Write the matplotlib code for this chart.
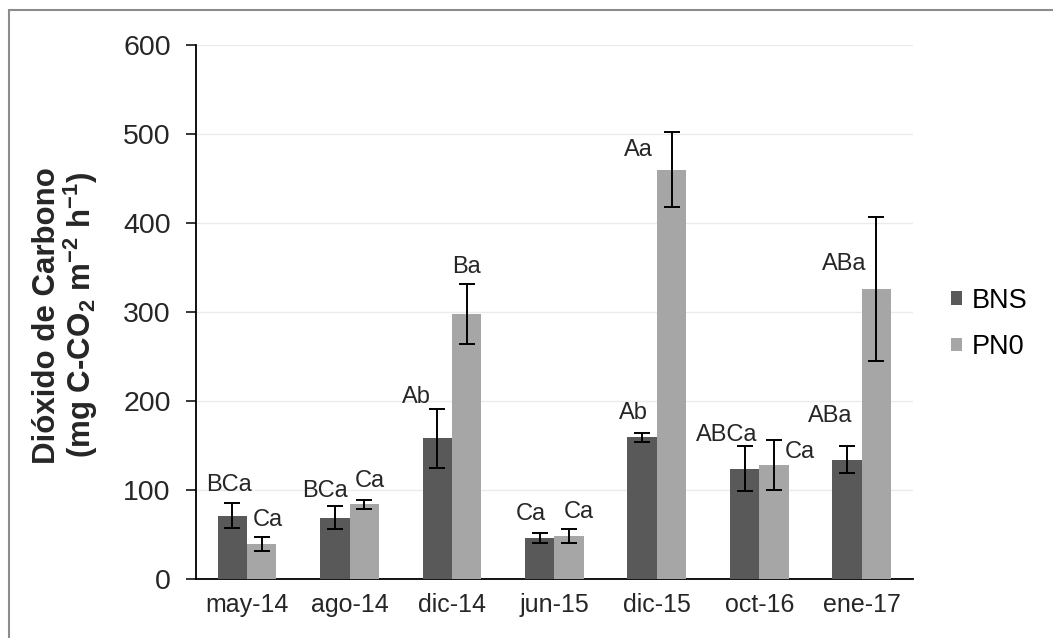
import matplotlib
matplotlib.use("Agg")
import matplotlib.pyplot as plt
import numpy as np
from matplotlib.patches import Rectangle

plt.rcParams['font.family'] = ['Liberation Sans', 'DejaVu Sans']
plt.rcParams['mathtext.fontset'] = 'custom'
plt.rcParams['mathtext.rm'] = 'Liberation Sans'
plt.rcParams['mathtext.bf'] = 'Liberation Sans:bold'

fechas = ["may-14", "ago-14", "dic-14", "jun-15", "dic-15", "oct-16", "ene-17"]

bns = [71, 69, 158, 46, 159, 124, 134]
bns_err = [14, 13, 33, 6, 5, 25, 15]
bns_letras = ["BCa", "BCa", "Ab", "Ca", "Ab", "ABCa", "ABa"]

pn0 = [39, 84, 298, 48, 460, 128, 326]
pn0_err = [8, 5, 34, 8, 42, 28, 81]
pn0_letras = ["Ca", "Ca", "Ba", "Ca", "Aa", "Ca", "ABa"]

# where each letter sits, relative to the top of its error bar (x in categories, y in data)
bns_dx = [-0.035, -0.097, -0.205, -0.086, -0.084, -0.171, -0.166]
bns_dy = [21, 17, 14, 21, 22, 13, 34]
pn0_dx = [0.058, 0.055, 0.0, 0.095, -0.32, 0.252, -0.317]
pn0_dy = [19, 21, 18, 19, -20, -13, -53]

col_bns = '#595959'
col_pn0 = '#a6a6a6'
txt = '#262626'

fig = plt.figure(figsize=(10.53, 6.38), dpi=100)
ax = fig.add_axes([0.186, 0.0925, 0.681, 0.837])

x = np.arange(len(fechas))
w = 0.287
ek = dict(ecolor='black', elinewidth=1.4, capsize=6, capthick=1.4)

ax.bar(x - w/2, bns, w, color=col_bns, label='BNS', yerr=bns_err, error_kw=ek, zorder=3)
ax.bar(x + w/2, pn0, w, color=col_pn0, label='PN0', yerr=pn0_err, error_kw=ek, zorder=3)

for i in range(len(fechas)):
	ax.text(x[i] - w/2 + bns_dx[i], bns[i] + bns_err[i] + bns_dy[i], bns_letras[i],
		ha='center', va='center', fontsize=17, color=txt, zorder=4)
	ax.text(x[i] + w/2 + pn0_dx[i], pn0[i] + pn0_err[i] + pn0_dy[i], pn0_letras[i],
		ha='center', va='center', fontsize=17, color=txt, zorder=4)

ax.set_xlim(-0.5, len(fechas) - 0.5)
ax.set_ylim(0, 600)
ax.set_yticks(range(0, 601, 100))
ax.set_xticks(x)
ax.set_xticklabels(fechas)
ax.grid(axis='y', color='#ebebeb', linewidth=1, zorder=0)

for s in ['top', 'right']:
	ax.spines[s].set_visible(False)
ax.spines['left'].set_linewidth(1.3)
ax.spines['bottom'].set_linewidth(1.3)
ax.tick_params(axis='y', labelsize=20.5, length=7, width=1.3, pad=11, colors=txt)
ax.tick_params(axis='x', labelsize=18, length=0, pad=10, colors=txt)

fig.text(0.063, 0.506, 'Dióxido de Carbono\n' + r'(mg C-CO$_\mathbf{2}$ m$^\mathbf{-2}$ h$^\mathbf{-1}$)',
	rotation=90, ha='center', va='center', fontsize=22.5, fontweight='bold',
	color=txt, linespacing=1.0)

leg = fig.legend(loc='center left', bbox_to_anchor=(0.88, 0.492), frameon=False,
	fontsize=19.5, handlelength=0.4, handleheight=0.4, handletextpad=0.35, labelspacing=0.75)

fig.patches.append(Rectangle((9/1053, -0.1), 1.2, 1.1 - 10/638, transform=fig.transFigure,
	fill=False, edgecolor='#8c8c8c', linewidth=1.5))

fig.savefig('out.png', dpi=100)
